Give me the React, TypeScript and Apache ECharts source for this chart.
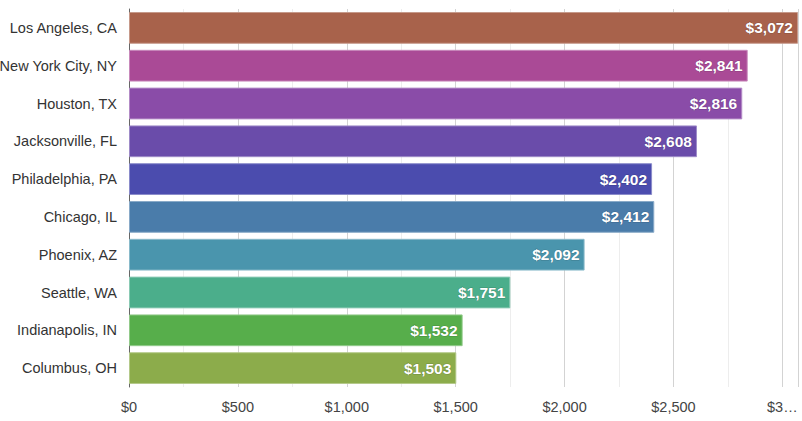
import React, { useEffect, useRef } from "react";
import * as echarts from "echarts";

const cities = [
  "Los Angeles, CA",
  "New York City, NY",
  "Houston, TX",
  "Jacksonville, FL",
  "Philadelphia, PA",
  "Chicago, IL",
  "Phoenix, AZ",
  "Seattle, WA",
  "Indianapolis, IN",
  "Columbus, OH",
];
const values = [3072, 2841, 2816, 2608, 2402, 2412, 2092, 1751, 1532, 1503];
const barColors = [
  "#A8624B",
  "#AA4A96",
  "#8A4CA8",
  "#6A4CAA",
  "#4B4CAE",
  "#4A7CAA",
  "#4A95AD",
  "#4BAE8B",
  "#57AE4B",
  "#8CAC4B",
];

function lighten(hex: string, amt: number) {
  const n = parseInt(hex.slice(1), 16);
  const r = (n >> 16) & 255, g = (n >> 8) & 255, b = n & 255;
  const f = (c: number) => Math.round(c + (255 - c) * amt);
  return `rgb(${f(r)},${f(g)},${f(b)})`;
}

const fmt = (v: number) => "$" + v.toLocaleString("en-US");

export default function App() {
  const ref = useRef<HTMLDivElement>(null);
  useEffect(() => {
    if (!ref.current) return;
    const chart = echarts.init(ref.current, null, { renderer: "svg" });
    chart.setOption({
      animation: false,
      textStyle: { fontFamily: "Liberation Sans, Arial, sans-serif" },
      grid: {
        left: 129,
        right: 4,
        top: 9,
        bottom: 34,
        containLabel: false,
        outerBoundsMode: "none",
      },
      xAxis: {
        type: "value",
        min: 0,
        max: 3072,
        interval: 500,
        axisLine: { show: false },
        axisTick: { show: false },
        splitLine: { show: true, lineStyle: { color: "#d3d3d3", width: 1 } },
        minorTick: { show: false, splitNumber: 2 },
        minorSplitLine: { show: true, lineStyle: { color: "#ededed", width: 1 } },
        axisLabel: {
          color: "#444",
          fontSize: 14.5,
          margin: 12,
          showMaxLabel: false,
          hideOverlap: false,
          formatter: (v: number) => {
            if (v % 500 !== 0) return "";
            if (v === 3000) return "$3…";
            return fmt(v);
          },
        },
      },
      yAxis: {
        type: "category",
        data: cities,
        inverse: true,
        axisLine: { show: true, lineStyle: { color: "#666", width: 1 } },
        axisTick: { show: false },
        axisLabel: { color: "#333", fontSize: 14.5, margin: 12 },
      },
      series: [
        {
          type: "bar",
          barCategoryGap: "16%",
          data: values.map((v, i) => ({
            value: v,
            itemStyle: {
              color: barColors[i],
              borderColor: lighten(barColors[i], 0.35),
              borderWidth: 1,
            },
          })),
          label: {
            show: true,
            position: "insideRight",
            distance: 5,
            color: "#fff",
            fontWeight: "bold",
            fontSize: 15.5,
            textBorderColor: "rgba(0,0,0,0.2)",
            textBorderWidth: 1,
            formatter: (p: any) => fmt(p.value),
          },
        },
      ],
    });
    return () => chart.dispose();
  }, []);
  return <div ref={ref} style={{ width: 802, height: 421, position: "absolute", left: 0, top: 0 }} />;
}
